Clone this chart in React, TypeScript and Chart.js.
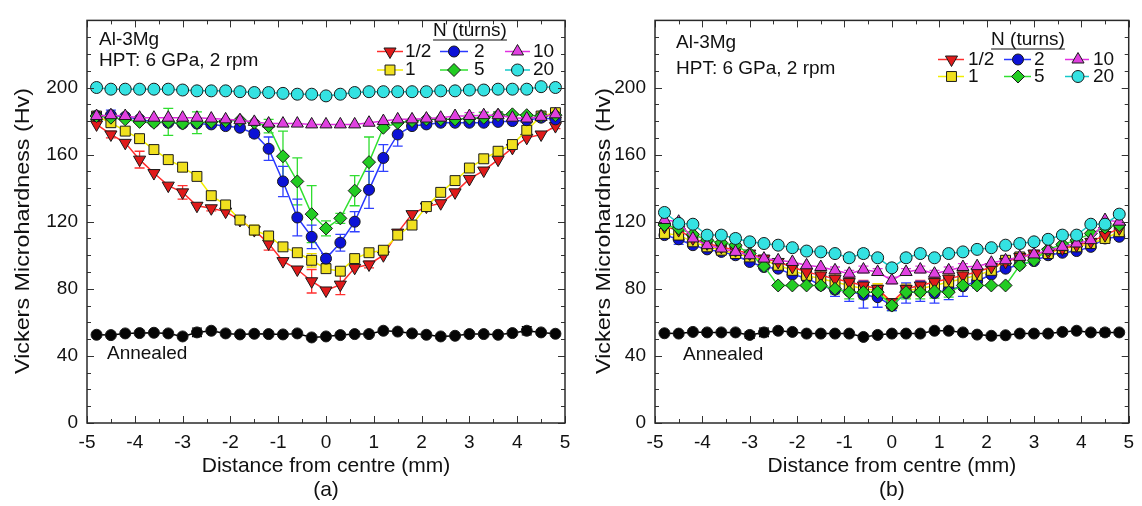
import { useEffect, useRef } from 'react';
import { Chart, registerables } from 'chart.js';
import { drawPoint } from 'chart.js/helpers';

Chart.register(...registerables);

const FONT = '"Liberation Sans", Arial, Helvetica, sans-serif';

// ---------- data ----------
const DIST = [-4.8, -4.5, -4.2, -3.9, -3.6, -3.3, -3.0, -2.7, -2.4, -2.1, -1.8, -1.5, -1.2, -0.9, -0.6, -0.3, 0, 0.3, 0.6, 0.9, 1.2, 1.5, 1.8, 2.1, 2.4, 2.7, 3.0, 3.3, 3.6, 3.9, 4.2, 4.5, 4.8];

const X_TICKS = [-5, -4, -3, -2, -1, 0, 1, 2, 3, 4, 5];
const Y_TICKS = [0, 40, 80, 120, 160, 200];

// panel (a)
const A_HALF = [178, 172, 167, 157, 149, 141.5, 137.5, 129.5, 128, 126, 121, 115, 107, 96.5, 91.5, 84.5, 79, 82.5, 92.5, 94.5, 100, 113.5, 124.5, 129, 131, 137.5, 145.5, 150.5, 157, 164, 170, 172, 177];
const A_ONE = [183, 179, 174, 169.5, 163, 157, 152.5, 147, 135.5, 130, 121, 115, 111.5, 105, 101.5, 97, 92, 90.5, 98, 101.5, 103, 112, 118, 129, 137.5, 144.5, 152, 157.5, 162, 166, 174.5, 183, 185];
const A_TWO = [183, 183.5, 182.5, 181, 179.5, 179, 178.5, 178.5, 178, 177, 176, 172.5, 163.5, 144, 122.5, 111, 98, 107.5, 120, 139, 158, 172, 177, 178, 179, 179, 179, 179, 179.5, 180, 180.5, 182, 181];
const A_FIVE = [183, 182, 181, 179.5, 179, 179.5, 178.5, 179, 179.5, 180, 180.5, 179, 177, 159, 144, 124.5, 116, 122, 138.5, 155.5, 176, 179, 180, 181, 181, 181, 181.5, 182, 183.5, 184, 183.5, 183, 183.5];
const A_TEN = [183, 183.5, 183, 182, 182, 182, 182, 182, 181.5, 181, 180.5, 179.5, 178.5, 178.5, 178.5, 178, 178, 178, 178, 179, 180, 181, 181, 181.5, 182, 183, 183, 183.5, 183.5, 182, 181.5, 182.5, 184];
const A_TWENTY = [200, 199, 199, 199, 199, 199, 198.5, 198, 198, 198, 197.5, 197, 197, 196.5, 196, 196, 195, 196, 197, 197.5, 197.5, 197.5, 197.5, 197.5, 198, 198, 198.5, 198.5, 199, 199, 199, 200.5, 200];
const A_ANNEALED = [52.6, 52.4, 53.4, 53.6, 53.8, 53.4, 51.6, 54, 55, 53.4, 52.8, 53.2, 53, 52.8, 53.4, 51, 51.6, 52.4, 53, 53, 55, 54.5, 53.4, 52.6, 51.6, 52, 53, 53, 52.6, 53.6, 55, 54, 53.2];

const A_HALF_ERR = [0, 2, 0, 5, 0, 0, 4, 0, 1.5, 0, 2, 0, 4, 0, 0, 7, 0, 6, 0, 2, 0, 0, 0, 2, 0, 0, 0, 0, 0, 0, 0, 0, 1.5];
const A_ONE_ERR = [0, 0, 0, 0, 0, 0, 0, 0, 0, 0, 0, 3, 2, 0, 0, 4, 0, 0, 0, 0, 0, 0, 0, 0, 0, 0, 0, 0, 0, 0, 0, 0, 0];
const A_TWO_ERR = [0, 3, 0, 0, 0, 0, 0, 0, 0, 0, 0, 2, 7, 9, 11, 7, 3, 5, 6, 11, 8, 7, 0, 0, 0, 0, 0, 0, 0, 0, 0, 0, 0];
const A_FIVE_ERR = [0, 0, 0, 0, 0, 8, 0, 6.5, 0, 0, 0, 0, 4, 15, 14, 17, 4.5, 3, 9, 15, 0, 0, 0, 0, 0, 0, 2, 3, 2, 0, 0, 0, 0];
const A_TEN_ERR = [0, 0, 0, 0, 0, 0, 0, 0, 0, 0, 0, 0, 0, 0, 0, 0, 0, 0, 0, 0, 0, 0, 0, 0, 0, 0, 2, 2, 2, 2, 0, 0, 0];
const A_TWENTY_ERR = [0, 0, 0, 0, 0, 0, 0, 0, 0, 0, 0, 0, 0, 0, 0, 0, 0, 0, 0, 0, 0, 0, 0, 0, 0, 0, 0, 0, 0, 0, 0, 0, 0];
const A_ANNEALED_ERR = [0, 0, 0, 0, 0, 0, 0, 2.5, 0, 0, 0, 0, 0, 0, 0, 0, 0, 0, 0, 0, 0, 0, 0, 0, 0, 0, 0, 0, 0, 0, 2.5, 0, 0];

// panel (b)
const B_HALF = [117, 115, 110, 107, 105, 103, 101, 98, 96, 93, 90, 88, 86, 84, 82, 80, 72, 80, 82, 84, 86, 88, 90, 93, 96, 99, 101, 102, 104, 106, 108, 112, 116];
const B_ONE = [113, 112, 108, 105, 103, 101, 99, 97, 94, 91, 88, 86, 84, 82, 80, 79, 71, 79, 80, 82, 84, 86, 88, 91, 97, 99, 100, 101, 104, 105, 107, 110, 114];
const B_TWO = [112, 109.5, 106, 103.5, 102, 100, 96, 93, 92, 88.5, 86.5, 82, 79.5, 78.5, 76.5, 75, 70, 77.5, 78.5, 77.5, 79.5, 81.5, 84.5, 88.5, 92, 94.5, 96.5, 100, 101.5, 102.5, 105, 110, 111];
const B_FIVE = [118, 116, 112.5, 109, 107.5, 106, 101, 93.5, 82, 82, 82, 82, 80, 78, 78, 78, 70, 78, 78, 78.5, 78, 82, 82, 82, 82, 94, 97, 103.5, 106.5, 109, 113, 116.5, 118];
const B_TEN = [121, 120, 110, 106, 104, 102, 100, 98, 97, 96, 94, 93, 91, 89, 91.5, 90, 85, 90, 91.5, 89, 91, 93, 93.5, 95.5, 97, 99, 100.5, 103, 105, 107, 109, 121, 120];
const B_TWENTY = [125.5, 119, 118.5, 112, 112, 110, 108, 107, 106, 104.5, 102.5, 102, 101, 98.5, 101, 98.5, 92.5, 98.5, 101, 98.5, 101, 102, 103.5, 104.5, 106, 107, 108, 109.5, 112, 112, 118.5, 118.5, 124.5];
const B_ANNEALED = [53.5, 53.3, 54.3, 54, 54, 54, 52.5, 54, 55, 54.3, 53.3, 53.3, 53.3, 53.3, 51.3, 52.5, 53.3, 53.3, 53.3, 55, 55, 54, 52.7, 52, 52.3, 53.3, 53.3, 53.3, 54.3, 55, 54, 54, 54];

const B_HALF_ERR = [0, 0, 0, 0, 0, 0, 0, 0, 0, 0, 3, 3, 3, 3, 3, 3, 2, 3, 3, 3, 3, 3, 3, 0, 0, 0, 0, 0, 0, 0, 0, 0, 0];
const B_ONE_ERR = [0, 0, 0, 0, 0, 0, 0, 0, 0, 0, 3, 4, 4, 4, 4, 4, 2, 4, 4, 4, 4, 4, 3, 0, 0, 0, 0, 0, 0, 0, 0, 0, 0];
const B_TWO_ERR = [0, 3, 0, 0, 0, 0, 0, 0, 0, 0, 0, 0, 4, 6, 8, 6, 3, 6, 6, 6, 6, 6, 4, 0, 0, 0, 0, 0, 0, 0, 0, 0, 0];
const B_FIVE_ERR = [0, 0, 0, 0, 0, 0, 0, 0, 0, 0, 0, 0, 3, 4, 4, 4, 3, 4, 4, 4, 3, 0, 0, 0, 0, 0, 0, 0, 0, 0, 0, 0, 0];
const B_TEN_ERR = [0, 0, 0, 0, 0, 0, 0, 0, 0, 0, 0, 0, 2, 2, 2, 2, 2, 2, 2, 2, 2, 2, 0, 0, 0, 0, 0, 0, 0, 0, 0, 0, 0];
const B_TWENTY_ERR = [0, 0, 0, 0, 2, 2.5, 0, 0, 0, 0, 0, 0, 0, 2.5, 2.5, 0, 2, 2.5, 0, 0, 0, 0, 0, 0, 0, 0, 0, 2, 2, 0, 0, 0, 0];
const B_ANNEALED_ERR = [0, 0, 0, 0, 0, 0, 2, 2.5, 0, 0, 0, 0, 0, 0, 0, 0, 0, 0, 0, 0, 0, 0, 0, 0, 0, 0, 0, 0, 0, 0, 0, 2, 0];

const Y_TITLE = 'Vickers Microhardness (Hv)';
const X_TITLE = 'Distance from centre (mm)';

// ---------- styles ----------
type Sty = { label: string; line: string; fill: string; err: string; pointStyle: any; rotation: number; radius: number };
const STY: Record<string, Sty> = {
  half: { label: '1/2', line: '#ff2c2c', fill: '#e01a1a', err: '#ff3030', pointStyle: 'triangle', rotation: 180, radius: 7 },
  one: { label: '1', line: '#f2ee00', fill: '#f0e01e', err: '#eedd00', pointStyle: 'rect', rotation: 0, radius: 7 },
  two: { label: '2', line: '#2a38ff', fill: '#0c12d6', err: '#3040ff', pointStyle: 'circle', rotation: 0, radius: 5.5 },
  five: { label: '5', line: '#30e030', fill: '#22cc22', err: '#30dd30', pointStyle: 'rectRot', rotation: 0, radius: 6.5 },
  ten: { label: '10', line: '#e030e0', fill: '#e040e0', err: '#e040e0', pointStyle: 'triangle', rotation: 0, radius: 7 },
  twenty: { label: '20', line: '#14c8c8', fill: '#34e2e2', err: '#22cccc', pointStyle: 'circle', rotation: 0, radius: 6 },
  ann: { label: 'Annealed', line: '#000000', fill: '#050505', err: '#000000', pointStyle: 'circle', rotation: 0, radius: 5.5 },
};

type PanelSeries = { key: string; values: number[]; errors: number[] };

function makeDatasets(list: PanelSeries[]) {
  return list.map((s) => {
    const st = STY[s.key];
    return {
      label: st.label,
      data: DIST.map((x, i) => ({ x, y: s.values[i] })),
      borderColor: st.line,
      backgroundColor: st.fill,
      borderWidth: 1.5,
      tension: 0,
      pointStyle: st.pointStyle,
      pointRotation: st.rotation,
      pointRadius: st.radius,
      pointBackgroundColor: st.fill,
      pointBorderColor: '#1a1a1a',
      pointBorderWidth: 1,
      errors: s.errors,
      errColor: st.err,
    };
  });
}

const PANEL_A = {
  letter: '(a)',
  width: 580,
  padRight: 15,
  yWidth: 87,
  yTitleX: 23,
  yTitleY: 231,
  series: [
    { key: 'twenty', values: A_TWENTY, errors: A_TWENTY_ERR },
    { key: 'ten', values: A_TEN, errors: A_TEN_ERR },
    { key: 'five', values: A_FIVE, errors: A_FIVE_ERR },
    { key: 'two', values: A_TWO, errors: A_TWO_ERR },
    { key: 'one', values: A_ONE, errors: A_ONE_ERR },
    { key: 'half', values: A_HALF, errors: A_HALF_ERR },
    { key: 'ann', values: A_ANNEALED, errors: A_ANNEALED_ERR },
  ],
  texts: [
    { t: 'Al-3Mg', x: 99, y: 40 },
    { t: 'HPT: 6 GPa, 2 rpm', x: 99, y: 61 },
    { t: 'Annealed', x: 107, y: 354 },
  ],
  legend: {
    titleX: 470, titleY: 31, underlineY: 40,
    rows: [51.5, 70],
    cols: [
      { x0: 377, x1: 403, m: 390, tx: 405 },
      { x0: 440, x1: 468, m: 454, tx: 474 },
      { x0: 505, x1: 530, m: 517.5, tx: 533 },
    ],
  },
};

const PANEL_B = {
  letter: '(b)',
  width: 562,
  padRight: 9,
  yWidth: 75,
  yTitleX: 24,
  yTitleY: 231,
  series: [
    { key: 'twenty', values: B_TWENTY, errors: B_TWENTY_ERR },
    { key: 'ten', values: B_TEN, errors: B_TEN_ERR },
    { key: 'five', values: B_FIVE, errors: B_FIVE_ERR },
    { key: 'half', values: B_HALF, errors: B_HALF_ERR },
    { key: 'one', values: B_ONE, errors: B_ONE_ERR },
    { key: 'two', values: B_TWO, errors: B_TWO_ERR },
    { key: 'ann', values: B_ANNEALED, errors: B_ANNEALED_ERR },
  ],
  texts: [
    { t: 'Al-3Mg', x: 96, y: 43 },
    { t: 'HPT: 6 GPa, 2 rpm', x: 96, y: 69 },
    { t: 'Annealed', x: 103, y: 355 },
  ],
  legend: {
    titleX: 448, titleY: 40, underlineY: 49,
    rows: [59.5, 76.5],
    cols: [
      { x0: 358, x1: 384, m: 371.5, tx: 388 },
      { x0: 424, x1: 451, m: 438, tx: 454 },
      { x0: 485, x1: 509, m: 498, tx: 513 },
    ],
  },
};

const LEGEND_ROWS = [
  ['half', 'two', 'ten'],
  ['one', 'five', 'twenty'],
];

function makeConfig(panel: any): any {
  const errorPlugin = {
    id: 'errorBars',
    beforeDatasetsDraw(chart: any) {
      const { ctx } = chart;
      const xs = chart.scales.x;
      const ys = chart.scales.y;
      ctx.save();
      ctx.lineWidth = 1.3;
      chart.data.datasets.forEach((ds: any) => {
        ctx.strokeStyle = ds.errColor;
        ds.data.forEach((p: any, i: number) => {
          const e = ds.errors[i];
          if (!e) return;
          const px = xs.getPixelForValue(p.x);
          const y1 = ys.getPixelForValue(p.y + e);
          const y2 = ys.getPixelForValue(p.y - e);
          ctx.beginPath();
          ctx.moveTo(px, y1);
          ctx.lineTo(px, y2);
          ctx.moveTo(px - 5, y1);
          ctx.lineTo(px + 5, y1);
          ctx.moveTo(px - 5, y2);
          ctx.lineTo(px + 5, y2);
          ctx.stroke();
        });
      });
      ctx.restore();
    },
  };

  const framePlugin = {
    id: 'frameAndText',
    afterDraw(chart: any) {
      const { ctx } = chart;
      const { left, right, top, bottom } = chart.chartArea;
      const xs = chart.scales.x;
      const ys = chart.scales.y;
      ctx.save();
      // ticks (inward, all four sides)
      ctx.strokeStyle = '#333';
      ctx.lineWidth = 1;
      ctx.beginPath();
      for (let i = -10; i <= 10; i++) {
        const px = Math.round(xs.getPixelForValue(i / 2)) + 0.5;
        const len = i % 2 === 0 ? 7 : 4;
        ctx.moveTo(px, bottom);
        ctx.lineTo(px, bottom - len);
        ctx.moveTo(px, top);
        ctx.lineTo(px, top + len);
      }
      for (let i = 0; i <= 24; i++) {
        const py = Math.round(ys.getPixelForValue(i * 10)) + 0.5;
        const len = i % 4 === 0 ? 7 : 4;
        ctx.moveTo(left, py);
        ctx.lineTo(left + len, py);
        ctx.moveTo(right, py);
        ctx.lineTo(right - len, py);
      }
      ctx.stroke();
      // frame
      ctx.lineWidth = 1.5;
      ctx.strokeStyle = '#2a2a2a';
      ctx.strokeRect(left, top, right - left, bottom - top);

      // y-axis title (slightly stretched along its length, as in the reference)
      ctx.fillStyle = '#111';
      ctx.font = `21px ${FONT}`;
      ctx.textBaseline = 'middle';
      ctx.textAlign = 'center';
      const yw = ctx.measureText(Y_TITLE).width;
      ctx.save();
      ctx.translate(panel.yTitleX, panel.yTitleY);
      ctx.rotate(-Math.PI / 2);
      ctx.scale(286 / yw, 1);
      ctx.fillText(Y_TITLE, 0, 0);
      ctx.restore();

      // annotations
      ctx.font = `19px ${FONT}`;
      ctx.textAlign = 'left';
      panel.texts.forEach((t: any) => ctx.fillText(t.t, t.x, t.y));

      // legend
      const lg = panel.legend;
      ctx.textAlign = 'center';
      ctx.fillText('N (turns)', lg.titleX, lg.titleY);
      const tw = ctx.measureText('N (turns)').width;
      ctx.strokeStyle = '#111';
      ctx.lineWidth = 1.2;
      ctx.beginPath();
      ctx.moveTo(lg.titleX - tw / 2, lg.underlineY);
      ctx.lineTo(lg.titleX + tw / 2, lg.underlineY);
      ctx.stroke();
      ctx.textAlign = 'left';
      LEGEND_ROWS.forEach((row, r) => {
        const y = lg.rows[r];
        row.forEach((key, c) => {
          const st = STY[key];
          const col = lg.cols[c];
          ctx.strokeStyle = st.line;
          ctx.lineWidth = 1.5;
          ctx.beginPath();
          ctx.moveTo(col.x0, y);
          ctx.lineTo(col.x1, y);
          ctx.stroke();
          ctx.fillStyle = st.fill;
          ctx.strokeStyle = '#1a1a1a';
          ctx.lineWidth = 1;
          drawPoint(ctx, { pointStyle: st.pointStyle, rotation: st.rotation, radius: st.radius, borderWidth: 1 } as any, col.m, y);
          ctx.fillStyle = '#111';
          ctx.fillText(st.label, col.tx, y);
        });
      });
      ctx.restore();
    },
  };

  return {
    type: 'line',
    data: { datasets: makeDatasets(panel.series) },
    options: {
      animation: false,
      responsive: false,
      events: [],
      layout: { padding: { left: 0, right: panel.padRight, top: 17, bottom: 0 } },
      plugins: { legend: { display: false }, tooltip: { enabled: false }, title: { display: false } },
      scales: {
        x: {
          type: 'linear',
          min: X_TICKS[0],
          max: X_TICKS[X_TICKS.length - 1],
          afterBuildTicks: (s: any) => { s.ticks = X_TICKS.map((v) => ({ value: v })); },
          ticks: { font: { family: FONT, size: 19 }, color: '#111', padding: 8, maxRotation: 0, autoSkip: false },
          grid: { display: false, drawTicks: false },
          border: { display: false },
          title: {
            display: true,
            text: [X_TITLE, panel.letter],
            font: { family: FONT, size: 21, lineHeight: 1.15 },
            color: '#111',
            padding: { top: 0, bottom: 4 },
          },
          afterFit: (s: any) => { s.height = 83; },
        },
        y: {
          type: 'linear',
          min: 0,
          max: 240,
          afterBuildTicks: (s: any) => { s.ticks = Y_TICKS.map((v) => ({ value: v })); },
          ticks: { font: { family: FONT, size: 19 }, color: '#111', padding: 9 },
          grid: { display: false, drawTicks: false },
          border: { display: false },
          title: { display: false },
          afterFit: (s: any) => { s.width = panel.yWidth; },
        },
      },
    },
    plugins: [errorPlugin, framePlugin],
  };
}

export default function App() {
  const refA = useRef<HTMLCanvasElement>(null);
  const refB = useRef<HTMLCanvasElement>(null);
  useEffect(() => {
    const a = new Chart(refA.current as HTMLCanvasElement, makeConfig(PANEL_A));
    const b = new Chart(refB.current as HTMLCanvasElement, makeConfig(PANEL_B));
    return () => {
      a.destroy();
      b.destroy();
    };
  }, []);
  return (
    <div style={{ position: 'absolute', left: 0, top: 0, width: 1142, height: 506, background: '#fff' }}>
      <canvas ref={refA} width={PANEL_A.width} height={506} style={{ position: 'absolute', left: 0, top: 0 }} />
      <canvas ref={refB} width={PANEL_B.width} height={506} style={{ position: 'absolute', left: 580, top: 0 }} />
    </div>
  );
}
